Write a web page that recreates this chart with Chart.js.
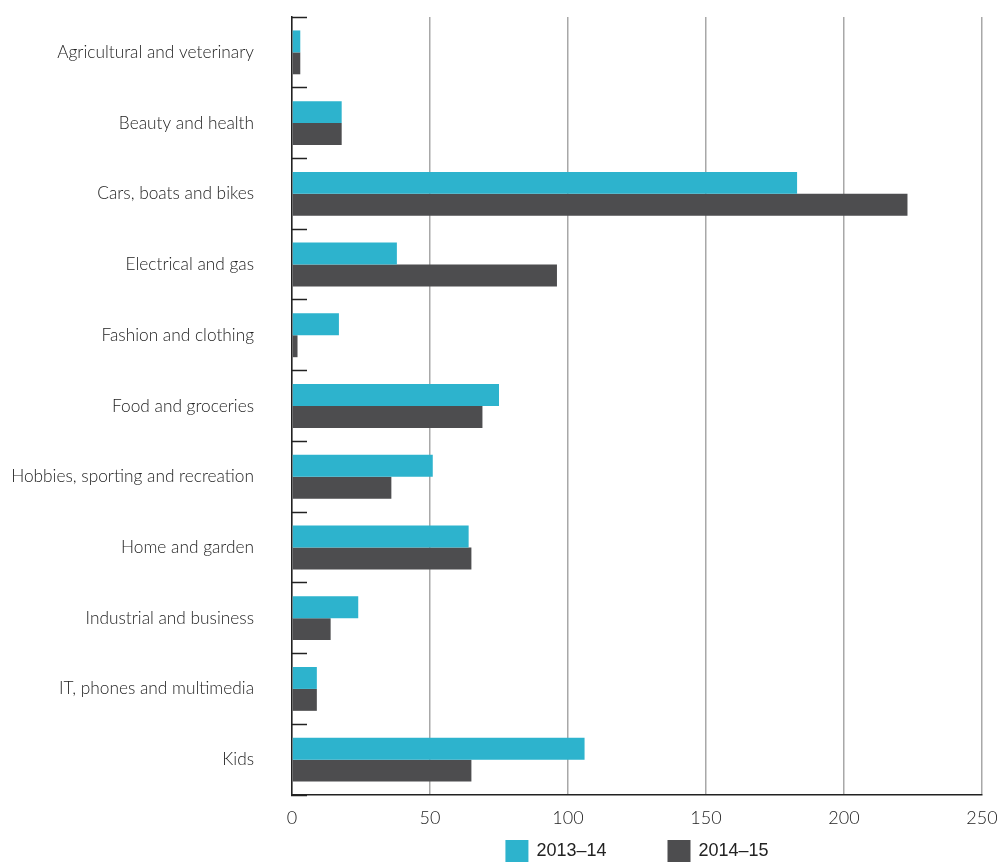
<!DOCTYPE html>
<html>
<head>
<meta charset="utf-8">
<script src="https://cdn.jsdelivr.net/npm/chart.js@4"></script>
<style>
  html, body { margin: 0; padding: 0; background: #fff; }
  #wrap { width: 1000px; height: 862px; position: relative; }
</style>
</head>
<body>
<div id="wrap"><canvas id="myChart"></canvas></div>
<script>
const categories = [
  'Agricultural and veterinary',
  'Beauty and health',
  'Cars, boats and bikes',
  'Electrical and gas',
  'Fashion and clothing',
  'Food and groceries',
  'Hobbies, sporting and recreation',
  'Home and garden',
  'Industrial and business',
  'IT, phones and multimedia',
  'Kids'
];
const seriesNames = ['2013\u201314', '2014\u201315'];
const values1314 = [3, 18, 183, 38, 17, 75, 51, 64, 24, 9, 106];
const values1415 = [3, 18, 223, 96, 2, 69, 36, 65, 14, 9, 65];
const xTicks = [0, 50, 100, 150, 200, 250];

const CYAN = '#2db3cd';
const DARK = '#4d4d4f';
const FONT = 'Lato, "Open Sans", sans-serif';

// legend drawn under the plot, centred on the chart area
const bottomLegend = {
  id: 'bottomLegend',
  afterDraw(chart) {
    const ctx = chart.ctx;
    const area = chart.chartArea;
    ctx.save();
    ctx.font = '18px "Liberation Sans", Arial, sans-serif';
    ctx.textBaseline = 'middle';
    const boxW = 23, boxH = 22, gap = 8, spacing = 61;
    const items = chart.data.datasets.map(ds => ({
      text: ds.label,
      color: ds.backgroundColor,
      w: boxW + gap + ctx.measureText(ds.label).width
    }));
    const total = items.reduce((s, it) => s + it.w, 0) + spacing * (items.length - 1);
    let x = (area.left + area.right) / 2 - total / 2;
    const top = 840;
    items.forEach(it => {
      ctx.fillStyle = it.color;
      ctx.fillRect(x, top, boxW, boxH);
      ctx.fillStyle = '#222';
      ctx.fillText(it.text, x + boxW + gap, top + 11);
      x += it.w + spacing;
    });
    ctx.restore();
  }
};

const ctx = document.getElementById('myChart');

new Chart(ctx, {
  type: 'bar',
  data: {
    labels: categories,
    datasets: [
      { label: seriesNames[0], data: values1314, backgroundColor: CYAN },
      { label: seriesNames[1], data: values1415, backgroundColor: DARK }
    ]
  },
  options: {
    indexAxis: 'y',
    responsive: true,
    maintainAspectRatio: false,
    animation: false,
    categoryPercentage: 0.62,
    barPercentage: 1.0,
    layout: { padding: { top: 17, right: 18, bottom: 0, left: 0 } },
    plugins: {
      legend: { display: false },
      tooltip: { enabled: false }
    },
    scales: {
      x: {
        min: 0,
        max: 250,
        afterBuildTicks: scale => { scale.ticks = xTicks.map(v => ({ value: v })); },
        afterFit: scale => {
          scale.height = 67;
          scale.paddingLeft = 0;
          scale.paddingRight = 0;
        },
        border: { color: '#222', width: 1.5 },
        grid: { color: '#a8a8a8', lineWidth: 1.5, drawTicks: false },
        ticks: {
          color: '#222',
          padding: 12,
          font: { family: FONT, size: 18, weight: 300 }
        }
      },
      y: {
        afterFit: scale => {
          scale.width = 292;
          scale.paddingTop = 0;
          scale.paddingBottom = 0;
        },
        border: { color: '#222', width: 1.5 },
        grid: {
          offset: true,
          drawOnChartArea: false,
          tickLength: -15,
          tickColor: '#222',
          tickWidth: 1.5
        },
        ticks: {
          color: '#222',
          padding: 53,
          autoSkip: false,
          font: { family: FONT, size: 17.3, weight: 300 }
        }
      }
    }
  },
  plugins: [bottomLegend]
});
</script>
</body>
</html>
